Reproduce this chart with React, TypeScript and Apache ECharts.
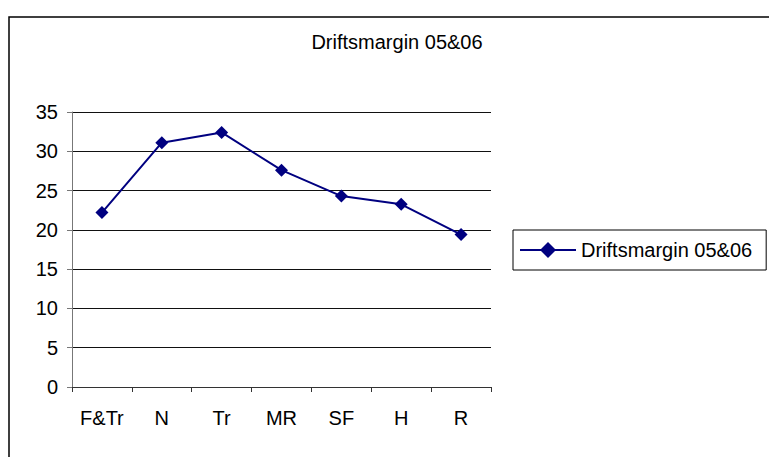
import React, { useEffect, useRef } from "react";
import * as echarts from "echarts";

const categories = ["F&Tr", "N", "Tr", "MR", "SF", "H", "R"];
const seriesName = "Driftsmargin 05&06";
const values = [22.2, 31.1, 32.4, 27.6, 24.3, 23.25, 19.4];
const yTicks = [0, 5, 10, 15, 20, 25, 30, 35];

const FONT = "Liberation Sans, Arial, sans-serif";

export default function App() {
  const ref = useRef<HTMLDivElement>(null);
  useEffect(() => {
    const chart = echarts.init(ref.current!, null, { renderer: "svg" });
    chart.setOption({
      animation: false,
      backgroundColor: "#ffffff",
      title: {
        text: seriesName,
        left: 392,
        textAlign: "center",
        top: 27,
        textStyle: { fontFamily: FONT, fontSize: 20, fontWeight: "normal", color: "#000" },
      },
      graphic: [
        {
          type: "rect",
          shape: { x: 9, y: 17, width: 800, height: 500 },
          style: { fill: "none", stroke: "#000", lineWidth: 1.5 },
          silent: true,
        },
      ],
      legend: {
        left: 513,
        top: 230,
        padding: [10, 14, 10, 6],
        borderColor: "#000",
        borderWidth: 1,
        itemWidth: 56,
        itemHeight: 20,
        itemGap: 5,
        textStyle: { fontFamily: FONT, fontSize: 20, color: "#000", padding: [0, 0, 0, 0] },
        data: [seriesName],
      },
      grid: { left: 72, top: 112, width: 419, height: 275, containLabel: false },
      xAxis: {
        type: "category",
        data: categories,
        boundaryGap: true,
        axisLine: { lineStyle: { color: "#333", width: 1 } },
        axisTick: { show: true, length: 5, inside: false, alignWithLabel: false, lineStyle: { color: "#333" } },
        axisLabel: { fontFamily: FONT, fontSize: 20, color: "#000", margin: 21, interval: 0 },
        splitLine: { show: false },
      },
      yAxis: {
        type: "value",
        min: 0,
        max: 35,
        interval: 5,
        axisLine: { show: true, lineStyle: { color: "#777", width: 1 } },
        axisTick: { show: true, length: 5, lineStyle: { color: "#777" } },
        axisLabel: { fontFamily: FONT, fontSize: 20, color: "#000", margin: 14 },
        splitLine: { show: true, lineStyle: { color: "#111", width: 1 } },
      },
      series: [
        {
          name: seriesName,
          type: "line",
          data: values,
          symbol: "diamond",
          symbolSize: 13,
          lineStyle: { color: "#000080", width: 2 },
          itemStyle: { color: "#000080" },
        },
      ],
    });
    return () => chart.dispose();
  }, []);
  return (
    <div
      ref={ref}
      style={{ position: "absolute", left: 0, top: 0, width: 769, height: 457 }}
    />
  );
}
